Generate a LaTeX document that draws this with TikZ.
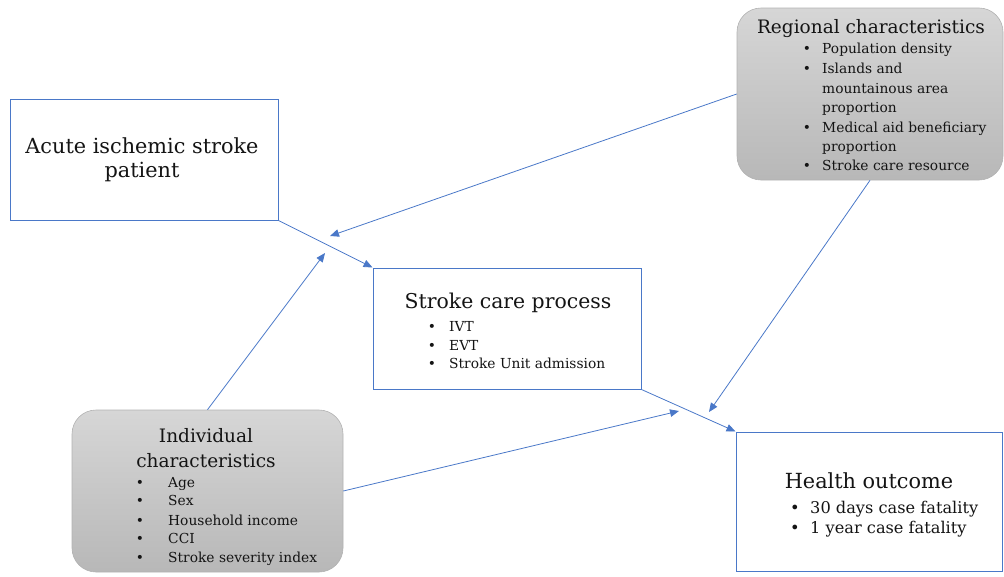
\documentclass[tikz,border=0pt]{standalone}
\usepackage{fontspec}
\setmainfont{DejaVu Serif}
\usetikzlibrary{arrows.meta}
\definecolor{lineblue}{HTML}{4A78C8}
\definecolor{txt}{HTML}{141414}
\begin{document}
\begin{tikzpicture}[x=1pt,y=-1pt,
  box/.style={draw=lineblue, line width=1pt, fill=white, inner sep=0pt, rectangle},
  gbox/.style={rounded corners=24pt, top color=black!16, bottom color=black!28, draw=black!30, line width=0.6pt, inner sep=0pt, rectangle},
  conn/.style={draw=lineblue, line width=0.8pt, -{Triangle[length=9pt,width=7.5pt]}},
  title/.style={font=\fontsize{20.8}{24}\selectfont, text=txt, inner sep=0pt, anchor=base},
  stitle/.style={font=\fontsize{18.5}{22}\selectfont, text=txt, inner sep=0pt, anchor=base},
  item/.style={font=\fontsize{13.8}{16}\selectfont, text=txt, inner sep=0pt, anchor=base west},
  bul/.style={font=\fontsize{13.8}{16}\selectfont, text=txt, inner sep=0pt, anchor=base},
  hfont/.style={font=\fontsize{16.2}{18}\selectfont},
]
\useasboundingbox (0,0) rectangle (1004,576);

% boxes
\node[box, minimum width=268pt, minimum height=121pt] (acute) at (144,159.5) {};
\node[box, minimum width=268pt, minimum height=121pt] (care) at (507,328.5) {};
\node[box, minimum width=266pt, minimum height=139pt] (health) at (869,501.5) {};
\node[gbox, minimum width=266pt, minimum height=172pt] (regional) at (870,94) {};
\node[gbox, minimum width=271pt, minimum height=162pt] (indiv) at (207.5,491) {};

% acute text
\node[title] (acuteA) at (142,153) {Acute ischemic stroke};
\node[title] (acuteB) at (142,177) {patient};

% care text
\node[title, font=\fontsize{20.4}{24}\selectfont] (careT) at (508,308) {Stroke care process};
\node[bul] (cb1) at (432,331) {•};
\node[item] (ci1) at (449,331) {IVT};
\node[bul] (cb2) at (432,350) {•};
\node[item] (ci2) at (449,350) {EVT};
\node[bul] (cb3) at (432,368) {•};
\node[item] (ci3) at (449,368) {Stroke Unit admission};

% health text
\node[title] (healthT) at (869,488) {Health outcome};
\node[bul, hfont] (hb1) at (795,513) {•};
\node[item, hfont] (hi1) at (810,513) {30 days case fatality};
\node[bul, hfont] (hb2) at (795,533) {•};
\node[item, hfont] (hi2) at (810,533) {1 year case fatality};

% regional text
\node[stitle] (regT) at (871,33) {Regional characteristics};
\node[bul] (rb1) at (807,53) {•};
\node[item] (ri1) at (822,53) {Population density};
\node[bul] (rb2) at (807,73) {•};
\node[item] (ri2) at (822,73) {Islands and};
\node[item] (ri3) at (822,93) {mountainous area};
\node[item] (ri4) at (822,112) {proportion};
\node[bul] (rb3) at (807,132) {•};
\node[item] (ri5) at (822,132) {Medical aid beneficiary};
\node[item] (ri6) at (822,151) {proportion};
\node[bul] (rb4) at (807,170) {•};
\node[item] (ri7) at (822,170) {Stroke care resource};

% individual text
\node[stitle] (indT1) at (206,442) {Individual};
\node[stitle] (indT2) at (206,467) {characteristics};
\node[bul] (ib1) at (140,487) {•};
\node[item] (ii1) at (168,487) {Age};
\node[bul] (ib2) at (140,505) {•};
\node[item] (ii2) at (168,505) {Sex};
\node[bul] (ib3) at (140,525) {•};
\node[item] (ii3) at (168,525) {Household income};
\node[bul] (ib4) at (140,543) {•};
\node[item] (ii4) at (168,543) {CCI};
\node[bul] (ib5) at (140,562) {•};
\node[item] (ii5) at (168,562) {Stroke severity index};

% free arrow ends
\coordinate (m1a) at (330,236);
\coordinate (m1b) at (325,253);
\coordinate (m2a) at (679,411);
\coordinate (m2b) at (709,412);

% connectors
\draw[conn] (acute.south east) -- (care.north west);
\draw[conn] (care.south east) -- (health.north west);
\draw[conn] (regional.west) -- (m1a);
\draw[conn] (indiv.north) -- (m1b);
\draw[conn] (indiv.east) -- (m2a);
\draw[conn] (regional.south) -- (m2b);
\end{tikzpicture}
\end{document}
